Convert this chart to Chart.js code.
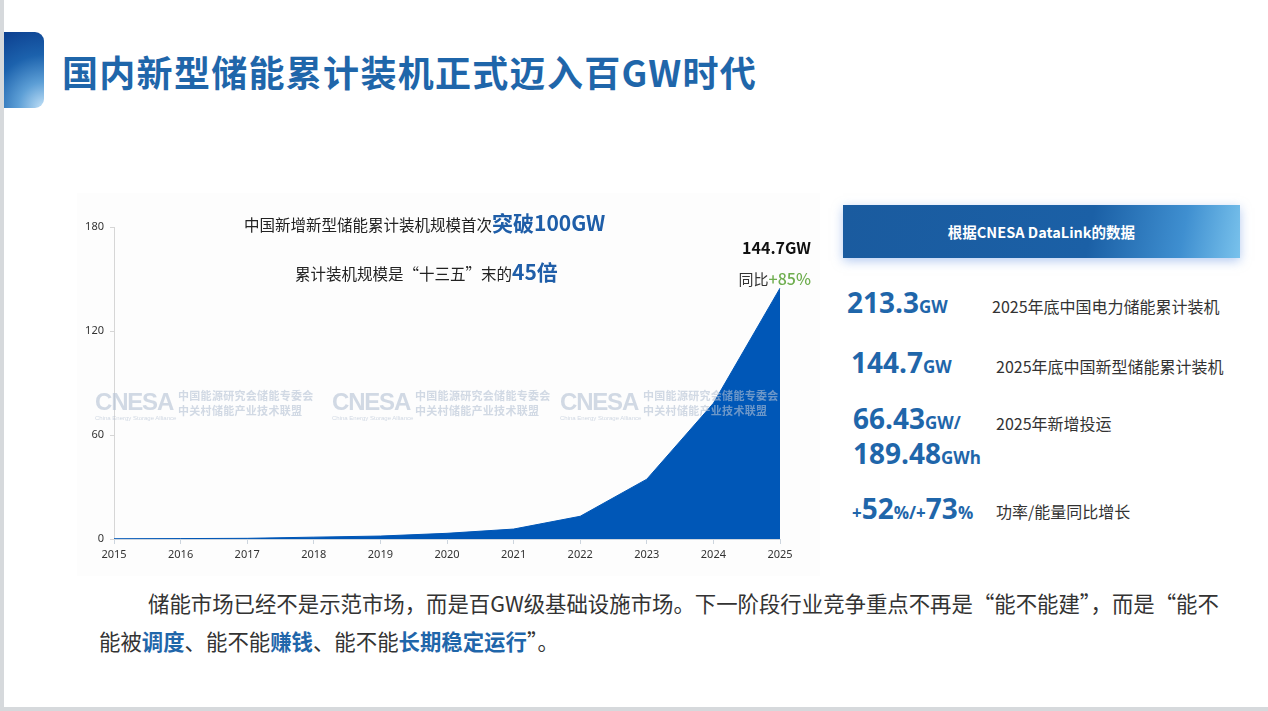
<!DOCTYPE html>
<html lang="zh-CN">
<head>
<meta charset="utf-8">
<title>国内新型储能累计装机正式迈入百GW时代</title>
<script src="https://cdn.jsdelivr.net/npm/chart.js@4.4.1/dist/chart.umd.min.js"></script>
<style>
  html, body { margin: 0; padding: 0; }
  body {
    width: 1268px; height: 711px; overflow: hidden; position: relative;
    background: #d6d9dc;
    font-family: "Noto Sans CJK SC", "Noto Sans", sans-serif;
  }
  .slide {
    position: absolute; left: 4px; top: 0; width: 1264px; height: 707px;
    background: #ffffff;
  }
  .abs { position: absolute; white-space: nowrap; }
  .tab {
    position: absolute; left: 4px; top: 32px; width: 40px; height: 76px;
    border-radius: 0 9px 9px 0;
    background: radial-gradient(circle at 100% 100%, #c4e2f8 0%, #5d9fd6 30%, #1c62ad 62%, #0c3f8f 100%);
  }
  .title {
    left: 62px; top: 47px; font-size: 36px; font-weight: 700; color: #1f66aa;
    line-height: 48px; letter-spacing: 1.3px;
  }
  .chart-box {
    position: absolute; left: 77px; top: 193px; width: 743px; height: 383px;
    background: #fdfdfd;
  }
  .chart-box canvas { position: absolute; left: 0; top: 0; }
  .ct { color: #222; font-size: 15.5px; line-height: 24px; }
  .ct b { color: #1f5ea8; font-size: 21px; font-weight: 700; }
  .wm { position: absolute; width: 240px; height: 40px; color: rgba(180, 194, 212, 0.6); font-weight: 700; pointer-events: none; white-space: nowrap; }
  .wm div { white-space: nowrap; }
  .wm .logo { position: absolute; left: 0; top: 0; font-family: "Liberation Sans", sans-serif; font-size: 24px; line-height: 26px; letter-spacing: -1.2px; }
  .wm .sub { position: absolute; left: 0; top: 25px; font-family: "Liberation Sans", sans-serif; font-size: 6px; line-height: 8px; font-weight: 400; }
  .wm .cn { position: absolute; left: 83px; font-size: 11px; line-height: 15px; letter-spacing: 0.3px; }
  .panel-head {
    position: absolute; left: 843px; top: 205px; width: 397px; height: 53px;
    background: linear-gradient(100deg, #1a5b9f 0%, #1b60a6 62%, #3f8fd0 85%, #79c2ec 100%);
    box-shadow: 0 3px 10px rgba(120, 160, 230, 0.55);
    color: #fff; font-weight: 700; font-size: 14.5px; line-height: 53px; text-align: center;
  }
  .num { color: #1f66aa; font-family: "Open Sans", sans-serif; font-weight: 700; font-size: 28px; line-height: 34px; }
  .num small { font-size: 17px; font-weight: 700; }
  .num .pm { font-size: 17px; }
  .desc { color: #333; font-size: 16px; line-height: 22px; }
  .para { color: #333; font-size: 21.4px; line-height: 30px; }
  .para b { color: #1f66aa; font-weight: 700; }
</style>
</head>
<body>
<div class="slide"></div>
<div class="tab"></div>
<div class="abs title">国内新型储能累计装机正式迈入百GW时代</div>

<div class="chart-box" id="chartBox">
  <canvas id="capacityChart"></canvas>
</div>

<div class="abs ct" style="left:244px; top:210px;">中国新增新型储能累计装机规模首次<b>突破100GW</b></div>
<div class="abs ct" style="left:295px; top:259px;">累计装机规模是“十三五”末的<b>45倍</b></div>

<div class="wm" style="left:95px; top:389px;">
  <div class="logo">CNESA</div><div class="sub">China Energy Storage Alliance</div>
  <div class="cn" style="top:-1px;">中国能源研究会储能专委会</div><div class="cn" style="top:14px;">中关村储能产业技术联盟</div>
</div>
<div class="wm" style="left:332px; top:389px;">
  <div class="logo">CNESA</div><div class="sub">China Energy Storage Alliance</div>
  <div class="cn" style="top:-1px;">中国能源研究会储能专委会</div><div class="cn" style="top:14px;">中关村储能产业技术联盟</div>
</div>
<div class="wm" style="left:560px; top:389px;">
  <div class="logo">CNESA</div><div class="sub">China Energy Storage Alliance</div>
  <div class="cn" style="top:-1px;">中国能源研究会储能专委会</div><div class="cn" style="top:14px;">中关村储能产业技术联盟</div>
</div>

<div class="panel-head">根据CNESA DataLink的数据</div>

<div class="abs num" style="left:847px; top:285px;">213.3<small>GW</small></div>
<div class="abs desc" style="left:992px; top:295px;">2025年底中国电力储能累计装机</div>

<div class="abs num" style="left:851px; top:345px;">144.7<small>GW</small></div>
<div class="abs desc" style="left:996px; top:355px;">2025年底中国新型储能累计装机</div>

<div class="abs num" style="left:853px; top:401px;">66.43<small>GW/</small></div>
<div class="abs num" style="left:853px; top:436px;">189.48<small>GWh</small></div>
<div class="abs desc" style="left:996px; top:412px;">2025年新增投运</div>

<div class="abs num" style="left:852px; top:491px;"><span class="pm">+</span>52<small>%/</small><span class="pm">+</span>73<small>%</small></div>
<div class="abs desc" style="left:996px; top:500px;">功率/能量同比增长</div>

<div class="abs para" style="left:148px; top:588px;">储能市场已经不是示范市场，而是百GW级基础设施市场。下一阶段行业竞争重点不再是“能不能建”，而是“能不</div>
<div class="abs para" style="left:99px; top:626px;">能被<b>调度</b>、能不能<b>赚钱</b>、能不能<b>长期稳定运行</b>”。</div>

<script>
// Cumulative new-type energy storage capacity in China (GW)
const years = ['2015', '2016', '2017', '2018', '2019', '2020', '2021', '2022', '2023', '2024', '2025'];
const cumulativeGW = [0.14, 0.24, 0.39, 1.07, 1.7, 3.28, 5.73, 13.1, 34.5, 78.3, 144.7];
const yTicks = [0, 60, 120, 180];
const endValueLabel = '144.7GW';
const yoyPrefix = '同比';
const yoyValue = '+85%';

const tickFont = { family: '"Noto Sans", sans-serif', size: 11 };

// Label above the last point
const endLabel = {
    id: 'endLabel',
    afterDatasetsDraw(chart) {
        const meta = chart.getDatasetMeta(0);
        const pt = meta.data[meta.data.length - 1];
        const ctx = chart.ctx;
        const right = pt.x + 31;
        ctx.save();
        ctx.textAlign = 'right';
        ctx.textBaseline = 'middle';
        ctx.font = 'bold 16px "Noto Sans CJK SC"';
        ctx.fillStyle = '#111';
        ctx.fillText(endValueLabel, right, pt.y - 40);

        ctx.font = '500 16px "Noto Sans CJK SC"';
        ctx.fillStyle = '#6fae4f';
        ctx.fillText(yoyValue, right, pt.y - 9);
        const w = ctx.measureText(yoyValue).width;
        ctx.font = '15px "Noto Sans CJK SC"';
        ctx.fillStyle = '#333';
        ctx.fillText(yoyPrefix, right - w, pt.y - 9);
        ctx.restore();
    }
};

document.addEventListener('DOMContentLoaded', () => {
    const ctx = document.getElementById('capacityChart').getContext('2d');
    new Chart(ctx, {
        type: 'line',
        data: {
            labels: years,
            datasets: [{
                data: cumulativeGW,
                fill: 'origin',
                backgroundColor: '#0057b7',
                borderColor: '#0057b7',
                borderWidth: 1,
                pointRadius: 0,
                tension: 0
            }]
        },
        options: {
            responsive: true,
            maintainAspectRatio: false,
            animation: false,
            layout: { padding: { left: 0, right: 40, top: 34, bottom: 0 } },
            plugins: {
                legend: { display: false },
                tooltip: { enabled: false }
            },
            scales: {
                x: {
                    offset: false,
                    afterFit: (scale) => { scale.height = 37; },
                    grid: { drawOnChartArea: false, color: '#cdd5de', tickLength: 5 },
                    border: { color: '#cdd5de' },
                    ticks: { color: '#333', font: tickFont, padding: 4, maxRotation: 0 }
                },
                y: {
                    min: 0,
                    max: 180,
                    afterFit: (scale) => { scale.width = 37; },
                    afterBuildTicks: (scale) => { scale.ticks = yTicks.map(v => ({ value: v })); },
                    grid: { drawOnChartArea: false, color: '#d6d6d6', tickLength: 4 },
                    border: { color: '#d6d6d6' },
                    ticks: { color: '#333', font: tickFont, padding: 6 }
                }
            }
        },
        plugins: [endLabel]
    });
});
</script>
</body>
</html>
